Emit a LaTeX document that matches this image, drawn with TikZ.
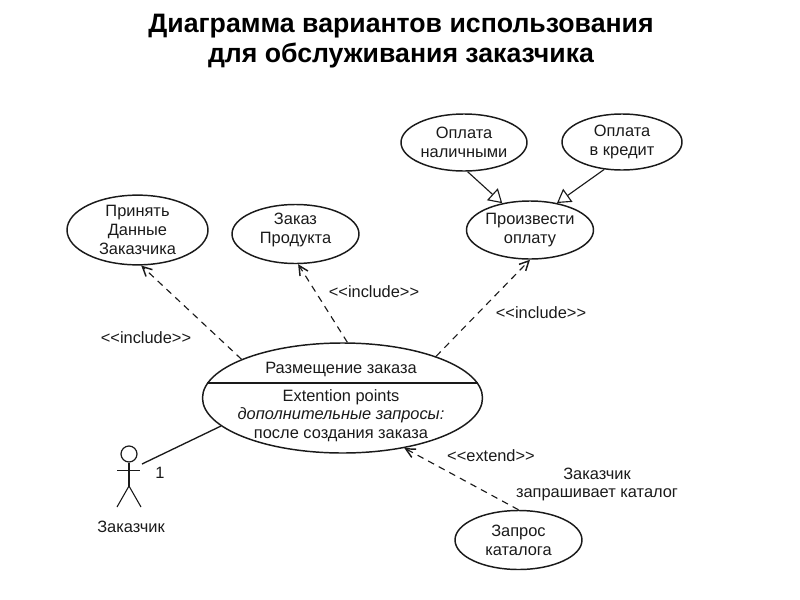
\documentclass[tikz,border=0pt]{standalone}
\usepackage{fontspec}
\setmainfont{Liberation Sans}
\usetikzlibrary{shapes.geometric,arrows.meta}
\definecolor{ink}{HTML}{1A1A1A}
\tikzset{
  usecase/.style={ellipse,draw=ink,line width=1.1pt,inner sep=0pt,align=center,text=ink,font=\fontsize{12.3}{14.2}\selectfont},
  txt/.style={inner sep=0pt,align=center,text=ink,font=\fontsize{12.3}{14.2}\selectfont},
  ttl/.style={inner sep=0pt,align=center,text=black,font=\fontsize{20}{22.5}\bfseries\selectfont},
  dep/.style={draw=ink,line width=0.85pt,dash pattern=on 5pt off 4pt,-{Straight Barb[length=7pt,width=7pt,line width=1.1pt]}},
  gen/.style={draw=ink,line width=0.85pt,-{Triangle[open,length=10pt,width=12pt,line width=0.85pt]}},
  assoc/.style={draw=ink,line width=1pt},
  limb/.style={draw=ink,line width=0.8pt}
}
\begin{document}
\begin{tikzpicture}[x=0.75pt,y=-0.75pt]
\useasboundingbox (0,0) rectangle (800,600);
\node[ttl] (title) at (401,41) {Диаграмма вариантов использования\\для обслуживания заказчика};
% use cases
\node[usecase,minimum width=141*0.75pt,minimum height=66*0.75pt] (accept) at (137.5,230) {Принять\\Данные\\Заказчика};
\node[usecase,minimum width=127*0.75pt,minimum height=59*0.75pt,label={[txt,yshift=2.8pt]center:Заказ\\Продукта}] (order) at (295.5,234) {};
\node[usecase,minimum width=126*0.75pt,minimum height=57*0.75pt] (cash) at (464,142.5) {Оплата\\наличными};
\node[usecase,minimum width=120*0.75pt,minimum height=56*0.75pt] (credit) at (622,142) {Оплата\\в кредит};
\node[usecase,minimum width=127*0.75pt,minimum height=58*0.75pt] (pay) at (530,230) {Произвести\\оплату};
\node[usecase,minimum width=280*0.75pt,minimum height=110*0.75pt] (main) at (342.5,398) {};
\node[usecase,minimum width=127*0.75pt,minimum height=59*0.75pt] (catalog) at (518.5,540) {Запрос\\каталога};
% main compartments
\coordinate (divl) at (207,383);
\coordinate (divr) at (478,383);
\draw[assoc] (divl) -- (divr);
\node[txt] (mname) at (341,369.5) {Размещение заказа};
\node[txt] (mext) at (341,397) {Extention points};
\node[txt,font=\fontsize{12.3}{14.2}\itshape\selectfont] (mq) at (341,415) {дополнительные запросы:};
\node[txt] (mafter) at (341,435.5) {после создания заказа};
% actor
\node[circle,draw=ink,line width=0.9pt,minimum size=16*0.75pt,inner sep=0pt] (head) at (129,454) {};
\coordinate (hip) at (129,486);
\coordinate (arml) at (117,470.5);
\coordinate (armr) at (140,470.5);
\coordinate (footl) at (117,507);
\coordinate (footr) at (141,507);
\coordinate (hand) at (142,464);
\draw[limb] (head.south) -- (hip);
\draw[limb] (arml) -- (armr);
\draw[limb] (footl) -- (hip) -- (footr);
\node[txt] (actor) at (131,527) {Заказчик};
\node[txt] (one) at (160,473) {1};
% connectors
\draw[assoc] (hand) -- (main.193.6);
\draw[dep] (main.159) -- (accept.-84);
\draw[dep] (main.85) -- (order.-85);
\draw[dep] (main.24) -- (pay.-90);
\draw[dep] (catalog.90) -- (main.-39);
\draw[gen] (cash.-83) -- (pay.136);
\draw[gen] (credit.-123) -- (pay.45);
% labels
\node[txt] (inc1) at (146,338) {<{}<include>{}>};
\node[txt] (inc2) at (374,292) {<{}<include>{}>};
\node[txt] (inc3) at (541,313) {<{}<include>{}>};
\node[txt] (ext) at (491,456) {<{}<extend>{}>};
\node[txt] (note) at (597,484.5) {Заказчик\\запрашивает каталог};
\end{tikzpicture}
\end{document}
